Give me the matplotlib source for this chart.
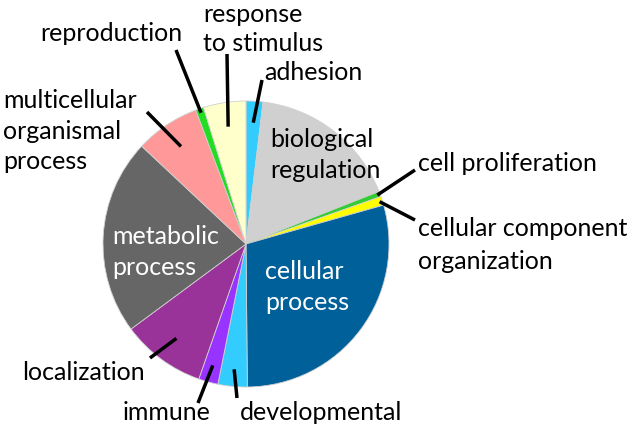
import matplotlib
matplotlib.use("Agg")
import matplotlib.pyplot as plt
import numpy as np

plt.rcParams['font.family'] = ['Lato', 'DejaVu Sans']

# GO biological process categories, clockwise from 12 o'clock
labels = ['adhesion', 'biological\nregulation', 'cell proliferation',
          'cellular component\norganization', 'cellular\nprocess', 'developmental',
          'immune', 'localization', 'metabolic\nprocess',
          'multicellular\norganismal\nprocess', 'reproduction', 'response\nto stimulus']
values = [1.9, 17.1, 0.6, 1.0, 29.2, 3.3, 2.2, 9.5, 22.1, 7.3, 0.9, 4.8]
colors = ['#33CCFF', '#D0D0D0', '#33CC33', '#FFFF00', '#00609A', '#33CCFF',
          '#9933FF', '#993399', '#666666', '#FF9999', '#22DD22', '#FFFFCC']

W, H = 632, 428
cx, cy, R = 246, H - 244, 143

fig = plt.figure(figsize=(6.32, 4.28), dpi=100)
ax = fig.add_axes([0, 0, 1, 1])
ax.pie(values, colors=colors, startangle=90, counterclock=False,
       center=(cx, cy), radius=R,
       wedgeprops=dict(edgecolor='#d0d0d0', linewidth=0.6))
ax.set_xlim(0, W)
ax.set_ylim(0, H)
ax.set_aspect('equal')
ax.axis('off')

# label text: left x, center y (pixels from top), line spacing, colour
text_pos = {
    'adhesion': (264, 72, 1.4, 'black'),
    'biological\nregulation': (270, 155, 1.45, 'black'),
    'cell proliferation': (418, 163, 1.4, 'black'),
    'cellular component\norganization': (418, 245, 1.5, 'black'),
    'cellular\nprocess': (265, 287, 1.45, 'white'),
    'developmental': (240, 412, 1.4, 'black'),
    'immune': (123, 412, 1.4, 'black'),
    'localization': (22, 372, 1.4, 'black'),
    'metabolic\nprocess': (112, 252, 1.4, 'white'),
    'multicellular\norganismal\nprocess': (3, 131, 1.4, 'black'),
    'reproduction': (40, 33, 1.4, 'black'),
    'response\nto stimulus': (203, 29, 1.35, 'black'),
}
# leader lines: radius fraction of inner end, outer end (pixels from top)
leaders = {
    'adhesion': (0.85, 262, 80),
    'cell proliferation': (0.98, 415, 170),
    'cellular component\norganization': (0.98, 415, 220),
    'developmental': (0.88, 237, 398),
    'immune': (0.88, 198, 403),
    'localization': (0.82, 150, 358),
    'multicellular\norganismal\nprocess': (0.82, 147, 112),
    'reproduction': (0.97, 176, 50),
    'response\nto stimulus': (0.83, 227, 54),
}

total = sum(values)
cum = 0
for lab, v in zip(labels, values):
    mid = np.deg2rad(90 - 360 * (cum + v / 2) / total)
    cum += v
    x, y, ls, c = text_pos[lab]
    ax.text(x, H - y, lab, ha='left', va='center', color=c, fontsize=18,
            linespacing=ls)
    if lab in leaders:
        f, ex, ey = leaders[lab]
        ax.plot([cx + f * R * np.cos(mid), ex], [cy + f * R * np.sin(mid), H - ey],
                color='black', lw=2.5, solid_capstyle='butt')

fig.savefig('out.png', dpi=100)
